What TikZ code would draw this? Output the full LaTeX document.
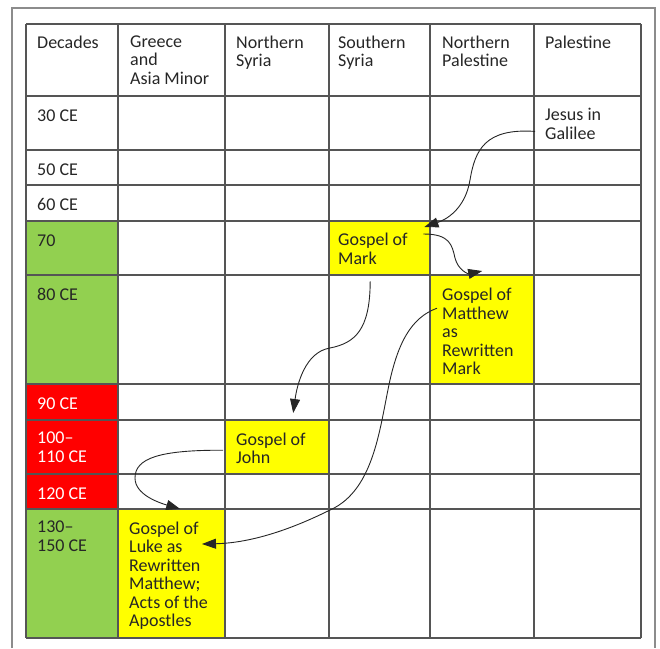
\documentclass[tikz,border=0pt]{standalone}
\usepackage{fontspec}
\setmainfont{Carlito}
\usetikzlibrary{arrows.meta}
\definecolor{ink}{HTML}{262626}
\definecolor{rule}{HTML}{555555}
\definecolor{early}{HTML}{92D050}
\definecolor{late}{HTML}{FF0000}
\definecolor{gospel}{HTML}{FFFF00}
\tikzset{
  txt/.style={anchor=north west, inner sep=0, align=left, text=ink,
    font=\fontsize{18}{18.5}\selectfont, execute at begin node=\strut},
  gospelcell/.style={fill=gospel, inner sep=0, anchor=north west},
  flow/.style={-{Triangle[length=14pt,width=10pt]}, line width=0.9pt, ink},
}
\begin{document}
\begin{tikzpicture}[x=1pt,y=-1pt]
\useasboundingbox (0,0) rectangle (660,648);
% frame
\draw[black!45, line width=1.2pt] (12,648) -- (12,8) -- (655,8) -- (655,648);
% coloured decades
\fill[early] (26,221) rectangle (118,384);
\fill[late] (26,384) rectangle (118,509);
\fill[early] (26,509) rectangle (118,638);
% gospels
\node[gospelcell, minimum width=101pt, minimum height=54pt] (markcell) at (329,221) {};
\node[gospelcell, minimum width=104pt, minimum height=109pt] (mattcell) at (430,275) {};
\node[gospelcell, minimum width=104pt, minimum height=54pt] (johncell) at (225,420) {};
\node[gospelcell, minimum width=107pt, minimum height=129pt] (lukecell) at (118,509) {};
% grid
\foreach \x in {26,118,225,329,430,534,641}
\draw[rule, line width=1.2pt] (\x,24) -- (\x,638);
\foreach \y in {24,96,150,185,221,275,384,420,474,509,638}
\draw[rule, line width=1.2pt] (26,\y) -- (641,\y);
% headers
\foreach \x/\head [count=\i] in {37/Decades, 130/{Greece\\and\\Asia Minor}, 236/{Northern\\Syria},
  338/{Southern\\Syria}, 442/{Northern\\Palestine}, 545/Palestine}
\node[txt] (head\i) at (\x,35.5) {\head};
% decades
\foreach \y/\dec [count=\i] in {96/30 CE, 150/50 CE, 185/60 CE, 221/70, 275/80 CE, 509/{130--\\150 CE}}
\node[txt] (dec\i) at (37,\y+12) {\dec};
\foreach \y/\dec [count=\i] in {384/90 CE, 420/{100--\\110 CE}, 474/120 CE}
\node[txt, text=white] (red\i) at (37,\y+12) {\dec};
% texts
\node[txt] (jesus) at (545,108) {Jesus in\\Galilee};
\node[txt] (mark) at (338,233) {Gospel of\\Mark};
\node[txt] (matthew) at (442,288) {Gospel of\\Matthew\\as\\Rewritten\\Mark};
\node[txt] (john) at (236,432.5) {Gospel of\\John};
\node[txt] (luke) at (129,521.5) {Gospel of\\Luke as\\Rewritten\\Matthew;\\Acts of the\\Apostles};
% arrows
\draw[flow] ([shift={(-10,5)}]jesus.west) .. controls (485,128) and (475,150) .. (470,180)
  .. controls (465,210) and (445,220) .. ([shift={(-6,6)}]markcell.north east);
\draw[flow] ([shift={(-7,13)}]markcell.north east) .. controls (450,234) and (452,245) .. (455,258)
  .. controls (458,270) and (468,274) .. ([yshift=4]mattcell.north);
\draw[flow] ([shift={(-9.5,6)}]markcell.south) .. controls (370,330) and (355,343) .. (330,348)
  .. controls (305,352) and (297,385) .. ([shift={(16,-7)}]johncell.north);
\draw[flow] ([shift={(7,-21.5)}]mattcell.west) .. controls (410,318) and (398,345) .. (390,380)
  .. controls (380,425) and (375,490) .. (330,510)
  .. controls (290,530) and (250,543) .. ([shift={(84,35)}]lukecell.north west);
\draw[flow] ([shift={(-2,3)}]johncell.west) .. controls (160,450) and (135,458) .. (135,478)
  .. controls (135,495) and (160,503) .. ([xshift=8.5]lukecell.north);
\end{tikzpicture}
\end{document}
